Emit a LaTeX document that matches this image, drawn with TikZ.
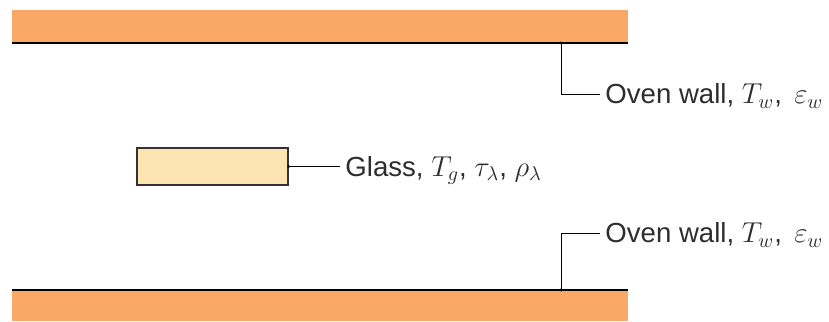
\documentclass[tikz,border=0pt]{standalone}
\usepackage{fontspec}
\setmainfont{Liberation Sans}
\definecolor{wallorange}{RGB}{250,168,102}
\definecolor{glasscream}{RGB}{253,228,178}
\definecolor{inkgray}{RGB}{45,45,45}
\begin{document}
\begin{tikzpicture}[x=0.5pt, y=-0.5pt,
    wallbody/.style={fill=wallorange, draw=none},
    walledge/.style={black, line width=0.7pt},
    glassbox/.style={draw=black!80, fill=glasscream, line width=0.6pt,
        minimum width=75.5pt, minimum height=18.5pt, inner sep=0pt},
    leader/.style={black, line width=0.45pt},
    tiptag/.style={circle, fill=black, inner sep=0pt, minimum size=1.6pt},
    walllabel/.style={font=\fontsize{13.8}{16}\selectfont, text=inkgray,
        anchor=west, inner sep=0pt, text height=9.9pt, text depth=0pt},
]

% ── Frame ───────────────────────────────────────────────────
\useasboundingbox (0, 0) rectangle (829, 321);

% ── Oven walls ──────────────────────────────────────────────
\fill[wallbody] (12, 10) rectangle (628, 43);
\draw[walledge] (12, 43) -- (628, 43);
\fill[wallbody] (12, 290) rectangle (628, 321);
\draw[walledge] (12, 290) -- (628, 290);

% ── Glass sheet ─────────────────────────────────────────────
\node[glassbox] (glass) at (212.5, 166.5) {};

% ── Labels ──────────────────────────────────────────────────
\node[walllabel] (toplabel) at (605, 94) {Oven wall, $T_w$,\, $\varepsilon_w$};
\node[walllabel] (botlabel) at (605, 233) {Oven wall, $T_w$,\, $\varepsilon_w$};
\node[walllabel] (glasslabel) at (345, 166.5) {Glass, $T_g$, $\tau_\lambda$, $\rho_\lambda$};

% ── Leaders ─────────────────────────────────────────────────
\node[tiptag] (topdot) at (561, 43) {};
\node[tiptag] (botdot) at (561, 290) {};
\node[tiptag] (glassdot) at (glass.east) {};

\draw[leader] (topdot.center) |- ([xshift=-2.5pt]toplabel.west);
\draw[leader] (botdot.center) |- ([xshift=-2.5pt]botlabel.west);
\draw[leader] (glassdot.center) -- ([xshift=-2.5pt]glasslabel.west);

\end{tikzpicture}
\end{document}
